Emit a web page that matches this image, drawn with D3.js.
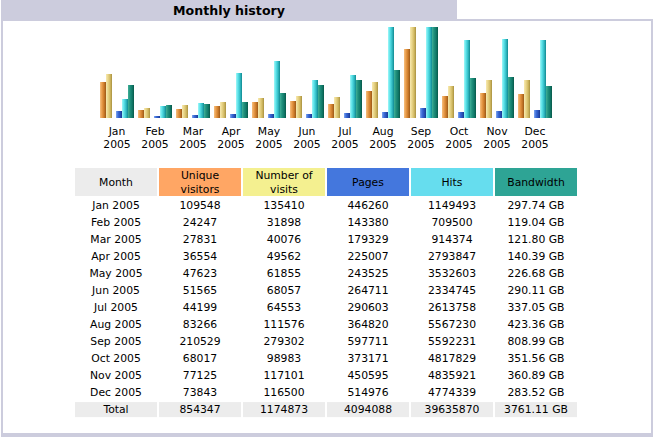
<!DOCTYPE html>
<html>
<head>
<meta charset="utf-8">
<script src="https://cdn.jsdelivr.net/npm/d3@7"></script>
<style>
  html, body { margin: 0; padding: 0; background: #fff; }
  svg { display: block; }
  text { font-family: "DejaVu Sans", Verdana, sans-serif; fill: #000; }
</style>
</head>
<body>
<script>
const months = ["Jan","Feb","Mar","Apr","May","Jun","Jul","Aug","Sep","Oct","Nov","Dec"];
const year = "2005";
const uniqueVisitors = [109548, 24247, 27831, 36554, 47623, 51565, 44199, 83266, 210529, 68017, 77125, 73843];
const visits = [135410, 31898, 40076, 49562, 61855, 68057, 64553, 111576, 279302, 98983, 117101, 116500];
const pages = [446260, 143380, 179329, 225007, 243525, 264711, 290603, 364820, 597711, 373171, 450595, 514976];
const hits = [1149493, 709500, 914374, 2793847, 3532603, 2334745, 2613758, 5567230, 5592231, 4817829, 4835921, 4774339];
const bandwidthGB = [297.74, 119.04, 121.80, 140.39, 226.68, 290.11, 337.05, 423.36, 808.99, 351.56, 360.89, 283.52];
const totals = ["Total", "854347", "1174873", "4094088", "39635870", "3761.11 GB"];
const headers = [["Month"], ["Unique", "visitors"], ["Number of", "visits"], ["Pages"], ["Hits"], ["Bandwidth"]];
const headerColors = ["#ECECEC", "#FFA664", "#F4F090", "#4477DD", "#66DDEE", "#2EA495"];

const W = 653, H = 437;
const svg = d3.select("body").append("svg").attr("width", W).attr("height", H);
const defs = svg.append("defs");

// frame
const frameColor = "#CCCCDD";
svg.append("rect").attr("x", 1).attr("y", 0).attr("width", 456).attr("height", 20).attr("fill", frameColor);
svg.append("rect").attr("x", 1).attr("y", 19).attr("width", 652).attr("height", 2).attr("fill", frameColor);
svg.append("rect").attr("x", 1).attr("y", 19).attr("width", 2).attr("height", 418).attr("fill", frameColor);
svg.append("rect").attr("x", 651).attr("y", 19).attr("width", 2).attr("height", 418).attr("fill", frameColor);
svg.append("rect").attr("x", 1).attr("y", 433).attr("width", 652).attr("height", 4).attr("fill", frameColor);
svg.append("text").attr("x", 229).attr("y", 15).attr("text-anchor", "middle")
  .style("font-weight", "bold").style("font-size", "12.6px").text("Monthly history");

// gradients for 3D bars
const grads = {
  u: ["#F6C080", "#E89A48", "#C87828", "#9A5818"],
  v: ["#F8EAB0", "#E8D488", "#D0B860", "#A89040"],
  p: ["#80A8F0", "#3C6CD8", "#2850B8", "#183890"],
  h: ["#A0F8F8", "#58E0E8", "#30B8C0", "#108890"],
  k: ["#40B098", "#20907C", "#107868", "#085848"]
};
Object.entries(grads).forEach(([k, c]) => {
  const g = defs.append("linearGradient").attr("id", "g" + k).attr("x1", "0").attr("x2", "1").attr("y1", "0").attr("y2", "0");
  [0, 0.35, 0.7, 1].forEach((o, i) => g.append("stop").attr("offset", o).attr("stop-color", c[i]));
});

// scales
const x = d3.scaleBand().domain(months).range([98, 554]).paddingInner(4 / 38).paddingOuter(2 / 38);
const sub = d3.scaleOrdinal().domain(["u", "v", "p", "h", "k"]).range([0, 6, 16, 22, 28]);
const barW = 6;
const baseY = 118, topY = 27;
const yVis = d3.scaleLinear().domain([0, d3.max(visits)]).range([baseY, topY]);
const yHits = d3.scaleLinear().domain([0, d3.max(hits)]).range([baseY, topY]);
const yBw = d3.scaleLinear().domain([0, d3.max(bandwidthGB)]).range([baseY, topY]);

const series = [
  { key: "u", vals: uniqueVisitors, y: yVis },
  { key: "v", vals: visits, y: yVis },
  { key: "p", vals: pages, y: yHits },
  { key: "h", vals: hits, y: yHits },
  { key: "k", vals: bandwidthGB, y: yBw }
];
const chart = svg.append("g");
series.forEach(s => {
  chart.selectAll(null).data(months).enter().append("rect")
    .attr("x", (m) => x(m) + sub(s.key))
    .attr("width", barW)
    .attr("y", (m, i) => Math.round(s.y(s.vals[i])))
    .attr("height", (m, i) => baseY - Math.round(s.y(s.vals[i])))
    .attr("fill", `url(#g${s.key})`);
});

const xAxis = svg.append("g").attr("transform", `translate(0,${baseY})`)
  .call(d3.axisBottom(x).tickSize(0).tickPadding(0).tickFormat(() => ""));
xAxis.select(".domain").remove();
xAxis.selectAll(".tick").each(function (m) {
  const t = d3.select(this);
  t.append("text").attr("y", 17).attr("text-anchor", "middle").style("font-size", "10.8px").text(m);
  t.append("text").attr("y", 30).attr("text-anchor", "middle").style("font-size", "10.8px").text(year);
});

// table
const cols = d3.scaleBand().domain(d3.range(6)).range([74, 578]).paddingInner(2 / 84).paddingOuter(1 / 84);
const headTop = 168, headH = 28;
const table = svg.append("g");
headers.forEach((h, i) => {
  table.append("rect").attr("x", cols(i)).attr("y", headTop).attr("width", cols.bandwidth()).attr("height", headH)
    .attr("fill", headerColors[i]);
  const cx = cols(i) + cols.bandwidth() / 2;
  h.forEach((line, j) => {
    const cy = h.length === 1 ? headTop + 14 : headTop + 7.5 + j * 13.5;
    table.append("text").attr("x", cx).attr("y", cy).attr("dy", "0.36em").attr("text-anchor", "middle")
      .style("font-size", "10.8px").text(line);
  });
});

const rows = months.map((m, i) => [
  `${m} ${year}`,
  String(uniqueVisitors[i]),
  String(visits[i]),
  String(pages[i]),
  String(hits[i]),
  bandwidthGB[i].toFixed(2) + " GB"
]);
rows.push(totals);
const rowY = d3.scaleLinear().domain([0, 1]).range([205.6, 222.6]);

rows.forEach((r, k) => {
  const cy = rowY(k);
  if (k === rows.length - 1) {
    r.forEach((_, i) => table.append("rect").attr("x", cols(i)).attr("y", cy - 7.5).attr("width", cols.bandwidth())
      .attr("height", 15).attr("fill", "#ECECEC"));
  }
  r.forEach((v, i) => {
    table.append("text").attr("x", cols(i) + cols.bandwidth() / 2).attr("y", cy).attr("dy", "0.36em")
      .attr("text-anchor", "middle").style("font-size", "10.8px").text(v);
  });
});
</script>
</body>
</html>
